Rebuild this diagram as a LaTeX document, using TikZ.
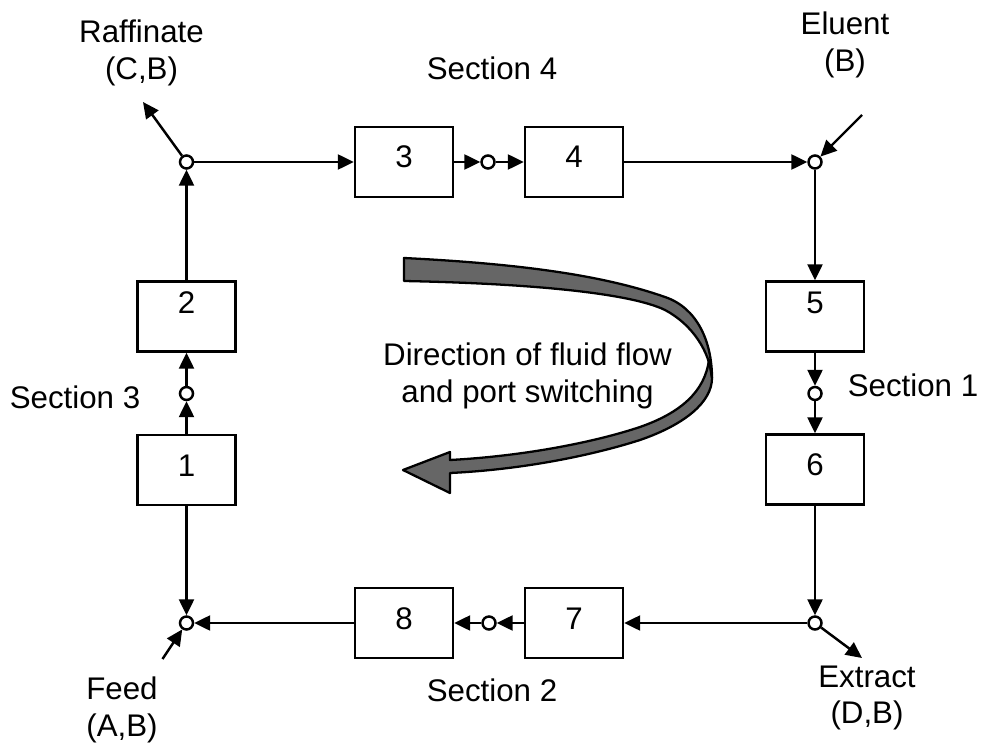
\documentclass[tikz,border=0pt]{standalone}
\usepackage{fontspec}
\setmainfont{Liberation Sans}
\usetikzlibrary{arrows.meta}

\begin{document}
\begin{tikzpicture}[
font=\fontsize{17.8pt}{21pt}\selectfont,
col/.style={rectangle, draw, line width=1.4pt, minimum width=1.96cm, minimum height=1.40cm, inner sep=0pt, text height=0.44cm, text depth=0.2cm},
port/.style={circle, draw, line width=1.4pt, fill=white, inner sep=0pt, minimum size=0.26cm},
flow/.style={-{Triangle[length=3.2mm, width=3mm]}, line width=1.4pt},
lab/.style={align=center, inner sep=0pt},
turn/.style={fill=black!60, draw=black, line width=1.3pt, line join=round}
]
\useasboundingbox (0,0) rectangle (19.62,14.94);
% ports and junctions
\node[port] (R) at (3.73,11.70) {};
\node[port] (E) at (16.30,11.70) {};
\node[port] (F) at (3.73,2.48) {};
\node[port] (X) at (16.30,2.48) {};
\node[port] (J12) at (3.73,7.07) {};
\node[port] (J34) at (9.76,11.70) {};
\node[port] (J56) at (16.30,7.07) {};
\node[port] (J78) at (9.78,2.48) {};
% columns
\node[col] (B1) at (3.73,5.54) {1};
\node[col, text depth=0.56cm] (B2) at (3.73,8.61) {2};
\node[col] (B3) at (8.08,11.70) {3};
\node[col] (B4) at (11.48,11.70) {4};
\node[col, text depth=0.56cm] (B5) at (16.30,8.61) {5};
\node[col] (B6) at (16.30,5.55) {6};
\node[col] (B7) at (11.48,2.48) {7};
\node[col] (B8) at (8.08,2.48) {8};
\coordinate (raff) at (2.86,12.90);
\coordinate (elu) at (17.24,12.64);
\coordinate (feed) at (3.25,1.76);
\coordinate (extr) at (17.24,1.78);
% labels
\node[lab] (raffl) at (2.83,13.88) {Raffinate\\(C,B)};
\node[lab] (elul) at (16.90,14.05) {Eluent\\(B)};
\node[lab] (feedl) at (2.44,0.74) {Feed\\(A,B)};
\node[lab] (extrl) at (17.34,0.98) {Extract\\(D,B)};
\node[lab] (s4) at (9.84,13.58) {Section 4};
\node[lab] (s3) at (1.50,7.00) {Section 3};
\node[lab] (s1) at (18.26,7.24) {Section 1};
\node[lab] (s2) at (9.84,1.14) {Section 2};
\node[lab] (dir) at (10.55,7.42) {Direction of fluid flow\\and port switching};
% loop
\draw[flow] (R) -- (B3);
\draw[flow] (B3) -- (J34);
\draw[flow] (J34) -- (B4);
\draw[flow] (B4) -- (E);
\draw[flow] (E) -- (B5);
\draw[flow] (B5) -- (J56);
\draw[flow] (J56) -- (B6);
\draw[flow] (B6) -- (X);
\draw[flow] (X) -- (B7);
\draw[flow] (B7) -- (J78);
\draw[flow] (J78) -- (B8);
\draw[flow] (B8) -- (F);
\draw[flow] (B1) -- (F);
\draw[flow] (B1) -- (J12);
\draw[flow] (J12) -- (B2);
\draw[flow] (B2) -- (R);
% inlets and outlets
\draw[flow] (R) -- (raff);
\draw[flow] (elu) -- (E);
\draw[flow] (feed) -- (F);
\draw[flow] (X) -- (extr);
% big turning arrow
\draw[turn] (14.24,7.38) .. controls (14.24,6.9) and (13.7,6.45) .. (12.8,6.14)
  .. controls (11.9,5.85) and (10.5,5.55) .. (9.0,5.48)
  -- (9.0,5.08) -- (8.06,5.54) -- (9.0,5.90) -- (9.0,5.74)
  .. controls (10.5,5.82) and (11.9,6.1) .. (12.8,6.40)
  .. controls (13.6,6.68) and (14.1,7.1) .. (14.18,7.75) -- cycle;
\draw[turn] (8.08,9.78) .. controls (10.5,9.66) and (12.1,9.42) .. (13.3,9.0)
  .. controls (13.95,8.78) and (14.24,8.1) .. (14.24,7.38)
  .. controls (14.2,7.9) and (13.85,8.45) .. (13.3,8.74)
  .. controls (12.6,9.08) and (10.6,9.27) .. (8.08,9.32) -- cycle;
\end{tikzpicture}
\end{document}
